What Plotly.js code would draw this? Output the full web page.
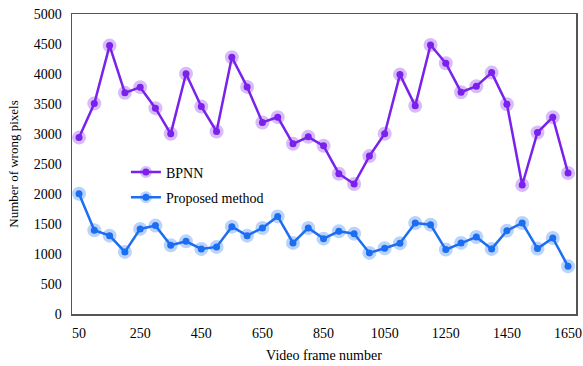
<!DOCTYPE html>
<html>
<head>
<meta charset="utf-8">
<script src="https://cdn.plot.ly/plotly-3.0.1.min.js"></script>
<style>html,body{margin:0;padding:0;background:#fff;}#chart{width:583px;height:366px;}</style>
</head>
<body>
<div id="chart"></div>
<script>
const frames = [50,100,150,200,250,300,350,400,450,500,550,600,650,700,750,800,850,900,950,1000,1050,1100,1150,1200,1250,1300,1350,1400,1450,1500,1550,1600,1650];
const bpnn = [2940,3508,4473,3686,3781,3431,3003,4005,3458,3042,4280,3785,3191,3281,2837,2953,2803,2338,2166,2632,3003,3990,3469,4484,4180,3697,3797,4023,3497,2150,3025,3281,2349];
const proposed = [2005,1395,1306,1035,1418,1473,1145,1211,1085,1118,1456,1306,1434,1627,1185,1434,1256,1378,1339,1018,1095,1180,1517,1489,1073,1185,1284,1085,1389,1517,1090,1267,795];
const xTicks = [50,250,450,650,850,1050,1250,1450,1650];
const yTicks = [0,500,1000,1500,2000,2500,3000,3500,4000,4500,5000];

const font = {family: '"Liberation Serif", "Times New Roman", serif', color: '#000'};

const traces = [
  {x: frames, y: bpnn, name: 'BPNN', legendgroup: 'a', type: 'scatter', mode: 'lines+markers',
   line: {color: '#7A22EC', width: 2.5},
   marker: {color: '#7A22EC', size: 7, line: {color: 'rgba(122,34,236,0.3)', width: 7}}},
  {x: frames, y: proposed, name: 'Proposed method', legendgroup: 'b', type: 'scatter', mode: 'lines+markers',
   line: {color: '#1C6EF2', width: 2.5},
   marker: {color: '#1C6EF2', size: 7, line: {color: 'rgba(28,110,242,0.3)', width: 7}}}
];

const layout = {
  width: 583, height: 366,
  margin: {l: 72, r: 7, t: 14, b: 52},
  paper_bgcolor: '#fff', plot_bgcolor: '#fff',
  font: Object.assign({size: 14}, font),
  showlegend: true,
  legend: {x: 0.107, y: 0.525, xanchor: 'left', yanchor: 'top', bgcolor: 'rgba(0,0,0,0)',
           font: Object.assign({size: 14}, font), tracegroupgap: 4},
  xaxis: {range: [27, 1676], tickvals: xTicks, ticktext: xTicks.map(String),
          showgrid: false, zeroline: false, showline: true, mirror: true,
          linecolor: '#555', linewidth: 1.5, ticks: 'outside', ticklen: 6, tickcolor: 'rgba(0,0,0,0)',
          tickfont: Object.assign({size: 14}, font),
          title: {text: 'Video frame number', font: Object.assign({size: 14}, font), standoff: 10}},
  yaxis: {range: [0, 5000], tickvals: yTicks, ticktext: yTicks.map(String),
          showgrid: false, zeroline: false, showline: true, mirror: true,
          linecolor: '#555', linewidth: 1.5, ticks: 'outside', ticklen: 6, tickcolor: 'rgba(0,0,0,0)',
          tickfont: Object.assign({size: 14}, font),
          title: {text: 'Number of wrong pixels', font: Object.assign({size: 13}, font), standoff: 12}}
};

Plotly.newPlot('chart', traces, layout, {displayModeBar: false, staticPlot: true});
</script>
</body>
</html>
